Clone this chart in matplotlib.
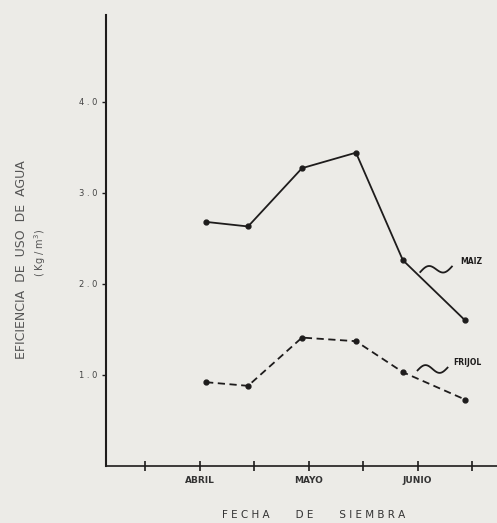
import matplotlib.pyplot as plt
import numpy as np

# fechas de siembra (en unidades de quincena, 2 = 1 abril, 4 = 1 mayo, 6 = 1 junio)
fechas = [2.12, 2.89, 3.88, 4.87, 5.73, 6.87]
maiz = [2.68, 2.63, 3.27, 3.44, 2.26, 1.60]
frijol = [0.92, 0.88, 1.41, 1.37, 1.03, 0.73]

ticks_x = [1, 2, 3, 4, 5, 6, 7]
meses = ['', 'ABRIL', '', 'MAYO', '', 'JUNIO', '']
ticks_y = [1.0, 2.0, 3.0, 4.0]

fondo = '#ecebe7'
tinta = '#1e1c1c'

fig = plt.figure(figsize=(4.97, 5.23), dpi=100, facecolor=fondo)
ax = fig.add_axes([0.2133, 0.109, 0.787, 0.862], facecolor=fondo)

ax.plot(fechas, maiz, '-', color=tinta, lw=1.3, marker='o', ms=3.5)
ax.plot(fechas, frijol, '--', color=tinta, lw=1.3, marker='o', ms=3.5, dashes=(4, 2.5))

ax.set_xlim(0.284, 7.46)
ax.set_ylim(0, 4.95)

for s in ['top', 'right']:
    ax.spines[s].set_visible(False)
ax.spines['left'].set_linewidth(1.5)
ax.spines['bottom'].set_linewidth(1.2)
ax.spines['left'].set_color(tinta)
ax.spines['bottom'].set_color(tinta)

ax.set_xticks(ticks_x)
ax.set_xticklabels(meses, fontsize=6.5, fontweight='bold', color='#333333')
ax.tick_params(axis='x', direction='inout', length=7, width=1.2, color=tinta, pad=4)
ax.set_yticks(ticks_y)
ax.set_yticklabels([f'{v:.1f}'.replace('.', ' . ') for v in ticks_y], fontsize=6, color='#444444')
ax.tick_params(axis='y', direction='out', length=3, width=1, color=tinta, pad=3)

# titulo del eje y en dos renglones
fig.text(22 / 497, 1 - 260 / 523, 'EFICIENCIA  DE  USO  DE  AGUA', rotation=90,
         fontsize=9, color='#555555', ha='center', va='center')
fig.text(40 / 497, 1 - 253 / 523, '( Kg / m$^3$)', rotation=90,
         fontsize=7, color='#555555', ha='center', va='center')

ax.set_xlabel('F E C H A        D E        S I E M B R A', fontsize=7.5,
              color='#333333', va='center')
ax.xaxis.set_label_coords(0.53, -0.108)


def garabato(x0, y0, x1, y1):
    t = np.linspace(0, 1, 40)
    x = x0 + (x1 - x0) * t
    y = y0 + (y1 - y0) * t + 0.05 * np.sin(2 * np.pi * t)
    ax.plot(x, y, color=tinta, lw=1.3)


garabato(6.05, 2.13, 6.63, 2.19)
ax.text(6.78, 2.24, 'MAIZ', fontsize=5.5, fontweight='bold', color=tinta, va='center')
garabato(6.00, 1.05, 6.55, 1.08)
ax.text(6.65, 1.14, 'FRIJOL', fontsize=5.5, fontweight='bold', color=tinta, va='center')

fig.savefig('out.png', dpi=100, facecolor=fondo)
